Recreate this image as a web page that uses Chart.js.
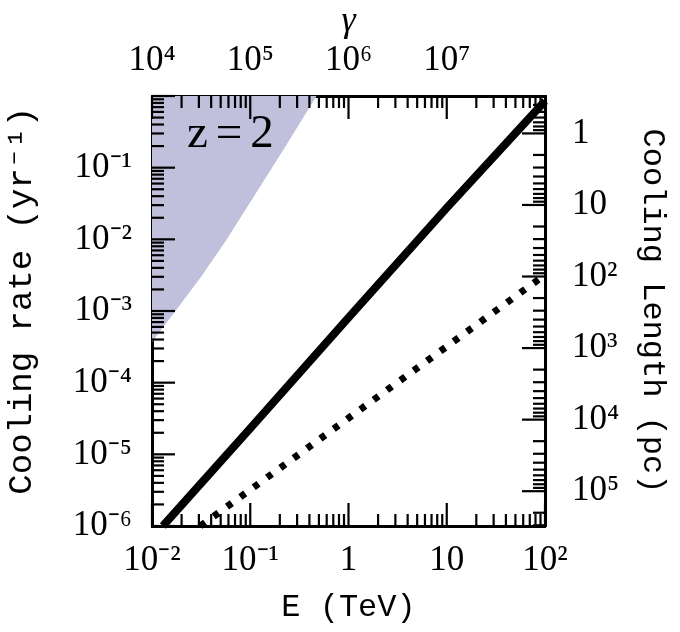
<!DOCTYPE html>
<html>
<head>
<meta charset="utf-8">
<script src="https://cdn.jsdelivr.net/npm/chart.js@4.4.1/dist/chart.umd.min.js"></script>
<style>
  html, body { margin: 0; padding: 0; background: #fff; }
  #wrap { width: 680px; height: 632px; }
</style>
</head>
<body>
<div id="wrap"><canvas id="coolingChart" width="680" height="632"></canvas></div>
<script>
// Cooling rate of electrons vs energy at z=2
var solidE = [0.0129, 0.1, 1, 10, 100];
var solidRate = [1e-6, 2.3e-5, 8.1e-4, 2.75e-2, 0.85];

var dottedE = [0.031, 0.1, 1, 10, 100];
var dottedRate = [1e-6, 3.2e-6, 3.2e-5, 3.2e-4, 3.2e-3];

// edge of the shaded (excluded) region
var shadeE = [0.01, 0.0178, 0.0316, 0.0562, 0.1, 0.224, 0.473];
var shadeRate = [3.7e-4, 1.05e-3, 3.0e-3, 9.5e-3, 3.3e-2, 0.19, 1];

// axis ranges
var eRange = [0.01, 100];
var rateRange = [1e-6, 1];
var gammaRange = [1e4, 1e8];
var lengthRange = [0.3066, 3.066e5]; // c / rate in pc, grows downwards

// labelled ticks
var eTicks = [0.01, 0.1, 1, 10, 100];
var eTickLabels = ['10⁻²', '10⁻¹', '1', '10', '10²'];
var rateTicks = [1e-6, 1e-5, 1e-4, 1e-3, 1e-2, 1e-1];
var rateTickLabels = ['10⁻⁶', '10⁻⁵', '10⁻⁴', '10⁻³', '10⁻²', '10⁻¹'];
var gammaTicks = [1e4, 1e5, 1e6, 1e7];
var gammaTickLabels = ['10⁴', '10⁵', '10⁶', '10⁷'];
var lengthTicks = [1, 10, 100, 1e3, 1e4, 1e5];
var lengthTickLabels = ['1', '10', '10²', '10³', '10⁴', '10⁵'];

function points(xs, ys) {
    return xs.map(function (x, i) { return { x: x, y: ys[i] }; });
}

function isDecade(v) {
    var l = Math.log10(v);
    return Math.abs(l - Math.round(l)) < 1e-9;
}

// 1..9 x 10^n inside the range
function logTicks(min, max) {
    var out = [];
    for (var n = Math.floor(Math.log10(min)); n <= Math.ceil(Math.log10(max)); n++) {
        for (var m = 1; m < 10; m++) {
            var v = m * Math.pow(10, n);
            if (v >= min * (1 - 1e-9) && v <= max * (1 + 1e-9)) out.push({ value: v });
        }
    }
    return out;
}

function labelFor(values, labels) {
    return function (value) {
        for (var i = 0; i < values.length; i++) {
            if (Math.abs(value / values[i] - 1) < 1e-6) return labels[i];
        }
        return '';
    };
}

var tickFont = { family: '"Liberation Serif", serif', size: 35 };
var monoFamily = '"Liberation Mono", monospace';

function axis(pos, range, values, labels, size, pad, extra) {
    var cfg = {
        type: 'logarithmic',
        position: pos,
        min: range[0],
        max: range[1],
        afterBuildTicks: function (s) { s.ticks = logTicks(range[0], range[1]); },
        afterFit: function (s) {
            if (pos === 'top' || pos === 'bottom') s.height = size; else s.width = size;
        },
        grid: { display: false, drawTicks: false },
        border: { display: true, color: '#000', width: 3 },
        ticks: {
            autoSkip: false,
            maxRotation: 0,
            padding: pad,
            color: '#000',
            font: tickFont,
            callback: labelFor(values, labels)
        }
    };
    return Object.assign(cfg, extra);
}

// tick marks pointing into the plot, long at decades
var inwardTicks = {
    id: 'inwardTicks',
    afterDatasetsDraw: function (chart) {
        var ctx = chart.ctx, a = chart.chartArea;
        ctx.save();
        ctx.strokeStyle = '#000';
        ctx.lineWidth = 2.2;
        ['x', 'x2', 'y', 'y2'].forEach(function (id) {
            var s = chart.scales[id];
            s.ticks.forEach(function (t) {
                var len = isDecade(t.value) ? 23 : 12;
                var p = s.getPixelForValue(t.value);
                ctx.beginPath();
                if (id === 'x') { ctx.moveTo(p, a.bottom); ctx.lineTo(p, a.bottom - len); }
                if (id === 'x2') { ctx.moveTo(p, a.top); ctx.lineTo(p, a.top + len); }
                if (id === 'y') { ctx.moveTo(a.left, p); ctx.lineTo(a.left + len, p); }
                if (id === 'y2') { ctx.moveTo(a.right, p); ctx.lineTo(a.right - len, p); }
                ctx.stroke();
            });
        });
        // redshift tag
        ctx.fillStyle = '#000';
        ctx.font = '47px "Liberation Serif", serif';
        if ('letterSpacing' in ctx) ctx.letterSpacing = '8px';
        ctx.textBaseline = 'alphabetic';
        ctx.fillText('z=2', a.left + 35, a.top + 51);
        ctx.restore();
    }
};

new Chart(document.getElementById('coolingChart'), {
    type: 'line',
    data: {
        datasets: [{
            label: 'total',
            data: points(solidE, solidRate),
            borderColor: '#000',
            borderWidth: 8,
            pointRadius: 0,
            tension: 0,
            fill: false,
            clip: 4,
            order: 0
        }, {
            label: 'second',
            data: points(dottedE, dottedRate),
            borderColor: '#000',
            borderWidth: 7,
            borderDash: [6, 10.5],
            borderCapStyle: 'butt',
            pointRadius: 0,
            tension: 0,
            fill: false,
            clip: 4,
            order: 1
        }, {
            label: 'excluded',
            data: points(shadeE, shadeRate),
            borderWidth: 0,
            borderColor: 'rgba(0,0,0,0)',
            backgroundColor: 'rgb(192,192,220)',
            pointRadius: 0,
            tension: 0,
            fill: 'end',
            order: 2
        }]
    },
    options: {
        responsive: false,
        animation: false,
        layout: { padding: 0, autoPadding: false },
        plugins: { legend: { display: false }, tooltip: { enabled: false } },
        scales: {
            x: axis('bottom', eRange, eTicks, eTickLabels, 106, 14, {
                title: { display: true, text: 'E (TeV)', color: '#000', font: { family: monoFamily, size: 32 }, padding: { top: 0, bottom: 5 } }
            }),
            x2: axis('top', gammaRange, gammaTicks, gammaTickLabels, 96, 14, {
                title: { display: true, text: 'γ', color: '#000', font: { family: '"Liberation Serif", serif', size: 36, style: 'italic' }, padding: { top: 0, bottom: 0 } }
            }),
            y: axis('left', rateRange, rateTicks, rateTickLabels, 152, 20, {
                title: { display: true, text: ' Cooling rate (yr⁻¹)', color: '#000', font: { family: monoFamily, size: 34 }, padding: { top: 2, bottom: 0 } }
            }),
            y2: axis('right', lengthRange, lengthTicks, lengthTickLabels, 135, 27, {
                reverse: true,
                title: { display: true, text: 'Cooling Length (pc)', color: '#000', font: { family: monoFamily, size: 32 }, padding: { top: 8, bottom: 0 } }
            })
        }
    },
    plugins: [inwardTicks]
});
</script>
</body>
</html>
